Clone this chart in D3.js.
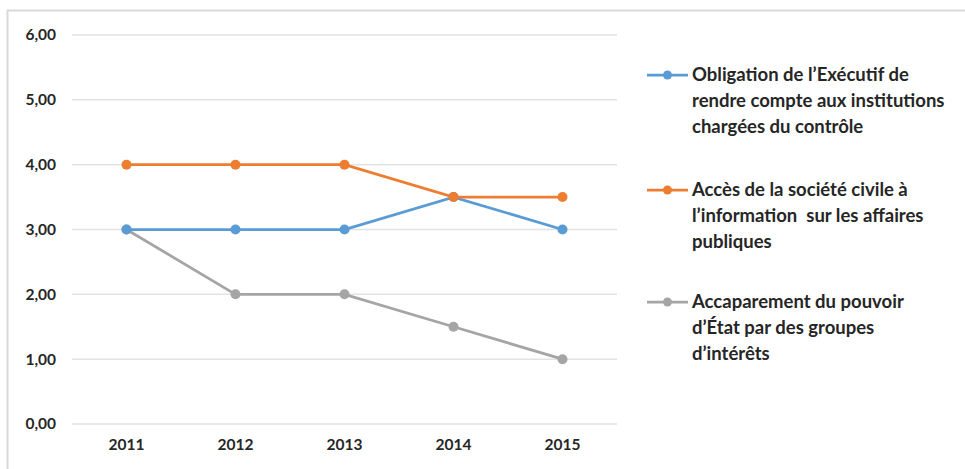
<!DOCTYPE html>
<html>
<head>
<meta charset="utf-8">
<script src="https://cdn.jsdelivr.net/npm/d3@7"></script>
<style>
  body { margin: 0; background: #fff; }
  svg text { font-family: Lato, "Open Sans", sans-serif; font-weight: bold; fill: #262626; }
</style>
</head>
<body>
<div id="chart"></div>
<script>
var w = 965;
var h = 469;

var years = ["2011", "2012", "2013", "2014", "2015"];
var yTicks = [0, 1, 2, 3, 4, 5, 6];

var obligation = [3, 3, 3, 3.5, 3];
var acces = [4, 4, 4, 3.5, 3.5];
var accaparement = [3, 2, 2, 1.5, 1];

var seriesNames = [
    ["Obligation de l\u2019Exécutif de", "rendre compte aux institutions", "chargées du contrôle"],
    ["Accès de la société civile à", "l\u2019information  sur les affaires", "publiques"],
    ["Accaparement du pouvoir", "d\u2019État par des groupes", "d\u2019intérêts"]
];
var colors = ["#5B9BD5", "#ED7D31", "#A5A5A5"];

var series = [obligation, acces, accaparement];

var svg = d3.select("#chart")
    .append("svg")
    .attr("width", w)
    .attr("height", h);

// outer frame
svg.append("rect")
    .attr("x", 7.5)
    .attr("y", 10.5)
    .attr("width", w + 10)
    .attr("height", h + 10)
    .attr("fill", "none")
    .attr("stroke", "#d9d9d9")
    .attr("stroke-width", 2);

var xScale = d3.scaleBand().domain(years).range([72, 617]);
var yScale = d3.scaleLinear().domain([0, 6]).range([424, 35]);

// gridlines
svg.selectAll("line.grid")
    .data(yTicks)
    .enter()
    .append("line")
    .attr("class", "grid")
    .attr("x1", 72)
    .attr("x2", 617)
    .attr("y1", function (d) { return yScale(d); })
    .attr("y2", function (d) { return yScale(d); })
    .attr("stroke", "#e3e3e3")
    .attr("stroke-width", 1.5);

// y axis
var yAxis = d3.axisLeft(yScale)
    .tickValues(yTicks)
    .tickSize(0)
    .tickPadding(0)
    .tickFormat(function (d) { return d3.format(".2f")(d).replace(".", ","); });

var gy = svg.append("g")
    .attr("transform", "translate(56,0)")
    .call(yAxis);
gy.select(".domain").remove();
gy.selectAll("text").attr("font-size", "15.5px").attr("fill", "#262626");

// x axis
var xAxis = d3.axisBottom(xScale).tickSize(0).tickPadding(0);
var gx = svg.append("g")
    .attr("transform", "translate(0,439)")
    .call(xAxis);
gx.select(".domain").remove();
gx.selectAll("text").attr("font-size", "15.5px").attr("fill", "#262626");

var line = d3.line()
    .x(function (d, i) { return xScale(years[i]) + xScale.bandwidth() / 2; })
    .y(function (d) { return yScale(d); });

var order = [2, 0, 1];
order.forEach(function (k) {
    var g = svg.append("g");
    g.append("path")
        .datum(series[k])
        .attr("d", line)
        .attr("fill", "none")
        .attr("stroke", colors[k])
        .attr("stroke-width", 2.75);
    g.selectAll("circle")
        .data(series[k])
        .enter()
        .append("circle")
        .attr("cx", function (d, i) { return xScale(years[i]) + xScale.bandwidth() / 2; })
        .attr("cy", function (d) { return yScale(d); })
        .attr("r", 5)
        .attr("fill", colors[k]);
});

// legend
var legendY = [75, 190, 302];
seriesNames.forEach(function (lines, k) {
    var g = svg.append("g").attr("transform", "translate(647," + legendY[k] + ")");
    g.append("line")
        .attr("x1", 0).attr("x2", 41)
        .attr("y1", 0).attr("y2", 0)
        .attr("stroke", colors[k])
        .attr("stroke-width", 2.75);
    g.append("circle")
        .attr("cx", 20.5).attr("cy", 0).attr("r", 4.5)
        .attr("fill", colors[k]);
    g.selectAll("text")
        .data(lines)
        .enter()
        .append("text")
        .attr("x", 45)
        .attr("y", function (d, i) { return i * 26; })
        .attr("dy", "0.35em")
        .attr("font-size", "18.5px")
        .attr("xml:space", "preserve")
        .style("white-space", "pre")
        .text(function (d) { return d; });
});
</script>
</body>
</html>
